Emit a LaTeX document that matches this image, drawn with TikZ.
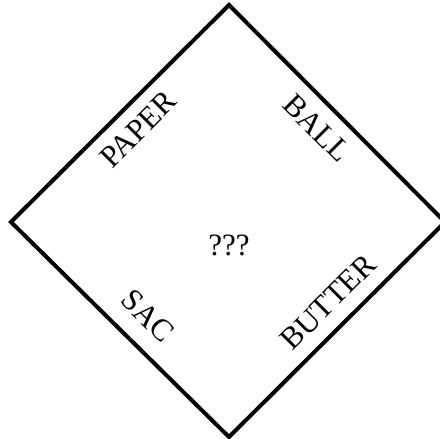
\documentclass[tikz,border=0pt]{standalone}
\usepackage{fontspec}
\setmainfont{Liberation Serif}
\begin{document}
\begin{tikzpicture}[x=1pt,y=-1pt,
  edge/.style={line width=4pt,line join=miter},
  word/.style={font=\fontsize{31}{33}\selectfont,inner sep=0pt,anchor=center}]
\useasboundingbox (0,0) rectangle (440,439);
\coordinate (top) at (229,5);
\coordinate (right) at (445,222);
\coordinate (bottom) at (229,437);
\coordinate (left) at (11,222);
\draw[edge] (top) -- (right) -- (bottom) -- (left) -- cycle;
\node[word,rotate=45] (paper) at (138,129) {PAPER};
\node[word,rotate=-45] (ball) at (317,128) {BALL};
\node[word,rotate=-45] (sac) at (148,316) {SAC};
\node[word,rotate=45] (butter) at (328,302) {BUTTER};
\node[word] (q) at (229,245) {???};
\end{tikzpicture}
\end{document}
